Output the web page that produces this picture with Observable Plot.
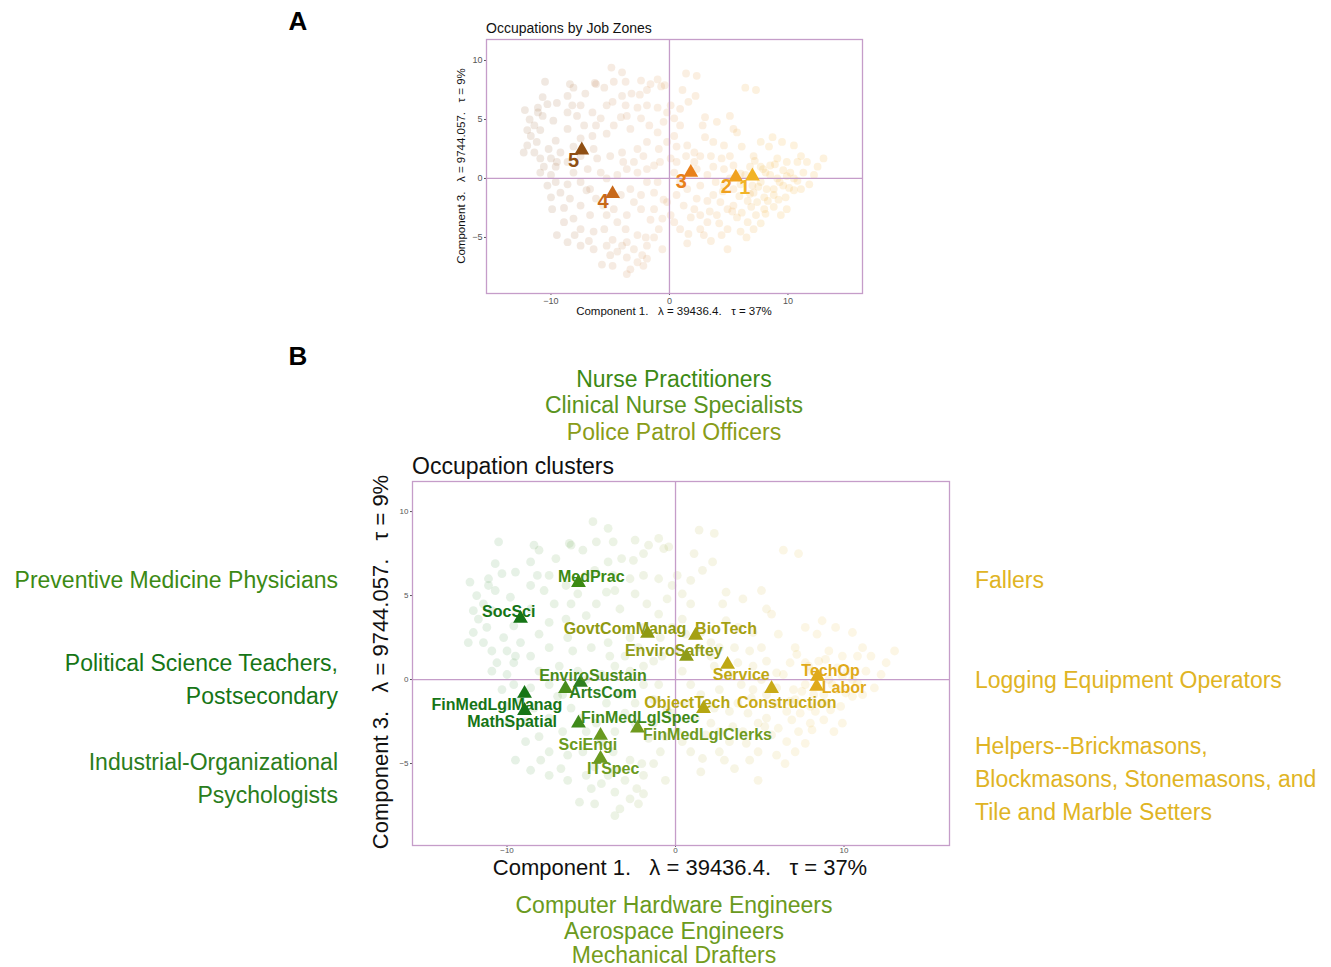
<!DOCTYPE html>
<html>
<head>
<meta charset="utf-8">
<script src="https://cdn.jsdelivr.net/npm/d3@7"></script>
<script src="https://cdn.jsdelivr.net/npm/@observablehq/plot@0.6"></script>
<style>
  html, body { margin: 0; padding: 0; background: #fff; }
  #page { position: relative; width: 1331px; height: 967px; overflow: hidden;
          font-family: "Liberation Sans", Arial, sans-serif; }
  .t { position: absolute; white-space: pre; line-height: 1; }
  .plot { position: absolute; }
</style>
</head>
<body>
<div id="page"></div>
<script>
// ---------------- DATA ----------------
// Occupations (Component 1, Component 3)
const occupationPoints = [
[-10.5,8.2],[-8.4,8.0],[-8.1,7.7],[-6.3,8.1],[-6.2,8.0],[-4.9,9.4],[-4.0,9.0],[-4.7,8.2],[-5.5,7.7],[-7.1,7.2],
[-8.6,7.0],[-8.2,6.2],[-9.5,6.4],[-10.3,6.3],[-11.1,6.0],[-12.2,5.8],[-11.8,5.0],[-11.1,5.6],[-10.7,5.3],[-9.8,4.9],
[-8.6,5.6],[-7.8,5.3],[-7.2,4.5],[-6.2,4.5],[-5.3,6.2],[-4.0,7.0],[-3.2,7.2],[-2.5,7.1],[-1.9,7.5],[-1.6,8.0],
[-0.7,7.8],[-0.4,7.9],[-1.9,6.2],[-2.7,6.0],[-3.7,6.2],[-4.8,6.5],[-4.1,5.2],[-3.3,4.2],[-5.3,3.8],[-6.5,3.6],
[-7.5,3.4],[-8.6,4.2],[-9.6,3.2],[-10.9,4.1],[-11.7,3.6],[-12.0,2.8],[-11.2,3.1],[-10.2,2.5],[-9.2,2.2],[-10.0,1.7],
[-10.6,1.0],[-9.6,1.0],[-8.6,1.4],[-8.1,0.5],[-6.9,0.8],[-6.1,1.7],[-5.0,1.9],[-4.0,2.2],[-2.7,2.5],[-1.9,3.1],
[-1.0,3.9],[-0.5,4.8],[-0.2,5.6],[0.4,5.1],[1.4,8.9],[2.3,8.7],[1.1,7.5],[1.6,6.5],[2.2,7.0],[3.0,5.2],
[2.8,4.5],[4.0,4.8],[5.4,4.2],[5.1,5.3],[6.4,7.7],[7.3,7.5],[0.4,3.6],[0.9,4.5],[1.5,2.8],[2.1,2.2],
[3.0,3.5],[3.7,3.1],[4.6,2.8],[5.7,3.9],[6.1,2.7],[7.1,1.9],[7.7,3.1],[8.7,3.5],[9.5,3.1],[10.5,2.8],
[11.1,1.9],[11.6,1.4],[13.0,1.7],[11.8,-0.5],[11.1,-0.9],[10.2,0.5],[9.9,1.4],[9.1,1.7],[8.5,1.1],[8.1,0.5],
[7.7,-0.3],[7.1,-1.2],[7.4,-2.0],[8.0,-1.6],[8.8,-0.9],[9.6,-0.6],[10.5,0.0],[9.1,0.0],[9.8,-1.6],[8.8,-2.4],
[8.1,-3.0],[7.3,-3.1],[6.6,-3.7],[6.1,-2.9],[5.4,-2.3],[4.9,-2.6],[4.3,-2.0],[3.7,-1.4],[3.2,-1.9],[2.3,-1.7],
[2.1,-2.6],[2.6,-3.1],[3.2,-3.7],[4.0,-3.1],[4.9,-4.3],[6.0,-4.5],[7.1,-4.3],[7.7,-3.8],[9.4,-3.1],[4.9,-6.0],
[4.2,-3.8],[2.6,-4.3],[1.6,-4.7],[0.9,-4.3],[0.4,-3.7],[0.1,-3.1],[-0.6,-3.4],[-0.9,-4.3],[-0.6,-6.0],[-1.3,-5.0],
[-1.9,-5.7],[-2.3,-6.5],[-3.0,-6.0],[-3.6,-5.4],[-2.7,-4.8],[-3.7,-4.3],[-4.4,-3.7],[-5.3,-3.1],[-5.5,-4.3],[-6.4,-4.5],
[-7.5,-4.3],[-8.1,-3.4],[-8.9,-3.7],[-9.5,-4.8],[-8.6,-5.4],[-7.5,-5.7],[-6.4,-6.0],[-5.3,-5.7],[-4.4,-6.2],[-3.6,-6.7],
[-2.7,-7.1],[-2.2,-7.4],[-1.9,-6.8],[-3.3,-7.7],[-4.8,-7.4],[-5.7,-7.3],[-4.0,-5.7],[-6.7,-3.1],[-7.5,-2.3],[-8.4,-1.7],
[-9.2,-1.2],[-10.0,-1.6],[-10.3,-0.6],[-9.6,-0.3],[-8.6,-0.5],[-7.5,-0.3],[-6.7,-0.9],[-5.8,0.5],[-5.3,0.0],[-4.4,0.3],
[-3.6,0.8],[-2.7,0.5],[-1.9,0.8],[-1.3,1.1],[-0.8,1.4],[-2.2,1.9],[-3.0,1.4],[-3.9,1.4],[-1.9,-0.3],[-1.0,-0.3],
[-1.3,-1.2],[-2.4,-1.4],[-3.3,-0.9],[-4.1,-1.4],[-4.7,-2.6],[-3.6,-3.1],[-2.4,-2.6],[-1.3,-2.6],[-0.2,-2.0],[0.6,-1.4],
[0.9,-0.3],[1.5,-0.9],[2.6,-0.6],[3.2,0.3],[2.3,0.8],[0.4,0.5],[0.1,1.7],[0.6,1.4],[1.4,1.9],[2.1,1.4],
[0.6,2.7],[-0.2,3.1],[-0.9,2.5],[-1.7,4.5],[-2.4,5.1],[-3.6,5.3],[-7.5,6.2],[-6.5,5.6],[-5.8,5.1],[-4.7,4.5],
[-6.4,2.5],[-7.5,1.9],[-8.1,2.7],[-9.5,1.4],[-10.9,1.7],[-11.4,2.2],[-12.3,2.2],[-10.0,0.3],[-10.9,0.5],[-11.4,4.5],
[-12.0,4.1],[-10.7,6.9],[-3.7,8.2],[-2.4,8.3],[-1.0,8.4],[0.1,6.2],[0.9,5.9],[-1.0,6.0],[12.5,1.0],[11.3,0.5],
[12.2,0.3],[10.8,1.4],[8.4,2.7],[6.8,1.0],[6.0,0.4],[5.4,1.1],[4.6,0.8],[3.7,1.0],[6.0,-0.5],[5.4,-0.9],
[4.6,-0.6],[5.1,0.0],[8.8,-1.4],[8.2,-0.9],[7.7,1.0],[10.5,-1.0],[9.9,-2.6],[5.7,-3.3],[6.6,-1.9],[7.0,-0.6],
[4.4,1.7],[5.1,1.9],[3.5,1.9],[2.6,1.9],[8.5,0.3],[9.3,-0.3],[7.9,0.8],[8.9,1.2],[9.6,0.7],[10.1,-0.8],
[7.5,-0.7],[8.3,-1.9],[9.2,-1.8],[6.8,-1.3],[6.4,0.3],[7.2,1.5],[9.9,0.2],[10.8,-0.2],[8.0,-2.6],[6.9,-2.4],
[5.9,-1.5],[5.3,-2.8],[4.5,-1.1],[3.9,-0.3],[3.4,-2.8],[2.9,-4.8],[6.5,-5.0],[1.2,-2.3],[1.8,-3.3],[-0.5,-1.8],
[-1.6,-3.5],[-3.0,-2.0],[-5.6,-2.3],[-6.2,-1.7],[-7.0,-1.0],[-8.9,-2.5],[-9.9,-2.6],[-8.0,-4.8],[-6.8,-5.3],[-4.8,-5.2],
[-3.6,-8.1],[-5.0,-6.5],[-2.0,-5.0],[1.5,-5.5],[3.5,-5.3],[4.4,-4.8]
];

// Panel A: job zone centroids
const zoneNames  = ["5", "4", "3", "2", "1"];
const zoneX      = [-7.4, -4.8, 1.8, 5.6, 7.0];
const zoneY      = [2.4, -1.3, 0.5, 0.1, 0.2];
const zoneLabelX = [-8.1, -5.6, 1.0, 4.8, 6.35];
const zoneLabelY = [1.5, -2.0, -0.3, -0.65, -0.75];
const zoneColors = ["#8f4f14", "#c8691a", "#e8801a", "#f0a11e", "#f2b426"];

// Panel B: occupation cluster centroids
const clusterNames = ["MedPrac","SocSci","GovtComManag","BioTech","EnviroSaftey","Service","TechOp","Labor",
  "Construction","EnviroSustain","ArtsCom","FinMedLglManag","MathSpatial","FinMedLglSpec","ObjectTech",
  "FinMedLglClerks","SciEngi","ITSpec"];
const clusterX = [-5.76,-9.2,-1.66,1.19,0.65,3.09,8.43,8.37,5.70,-6.53,-5.64,-8.96,-8.96,-5.76,1.66,-2.26,-4.45,-4.45];
const clusterY = [5.77,3.63,2.74,2.62,1.37,0.89,0.18,-0.42,-0.54,-0.54,-0.18,-0.83,-1.85,-2.6,-1.73,-2.9,-3.33,-4.7];
const clusterLabelX = [-5.0,-9.9,-3.0,3.0,-0.1,3.9,9.2,10.0,6.6,-4.9,-4.3,-10.6,-9.7,-2.1,0.7,1.9,-5.2,-3.7];
const clusterLabelY = [6.1,4.0,3.0,3.0,1.7,0.3,0.5,-0.5,-1.4,0.2,-0.8,-1.5,-2.5,-2.3,-1.4,-3.3,-3.9,-5.3];
const clusterColors = ["#3c8a14","#167516","#8f9a12","#a5a012","#8f9c18","#bfa814","#e0aa1a","#e0aa1a",
  "#c9aa18","#4a8c1a","#2e7f1e","#167516","#167516","#3f8a1a","#b5a612","#6f9a1e","#6a9a20","#6a9a20"];

// Axis ticks and titles
const xTicks = [-10, 0, 10];
const yTicks = [-5, 0, 5, 10];
const xTitle = "Component 1.   \u03bb = 39436.4.   \u03c4 = 37%";
const yTitle = "Component 3.   \u03bb = 9744.057.   \u03c4 = 9%";

// Representative occupations around panel B
const topLabels    = ["Nurse Practitioners", "Clinical Nurse Specialists", "Police Patrol Officers"];
const topColors    = ["#3c8a14", "#5a9420", "#8a9c18"];
const bottomLabels = ["Computer Hardware Engineers", "Aerospace Engineers", "Mechanical Drafters"];
const bottomColors = ["#6a9a20", "#6a9a20", "#749c1c"];
const leftLabels   = [["Preventive Medicine Physicians"], ["Political Science Teachers,", "Postsecondary"], ["Industrial-Organizational", "Psychologists"]];
const leftColors   = ["#3c8a14", "#167516", "#2a7d1c"];
const rightLabels  = [["Fallers"], ["Logging Equipment Operators"], ["Helpers--Brickmasons,", "Blockmasons, Stonemasons, and", "Tile and Marble Setters"]];
const rightColors  = ["#e0b424", "#e0b424", "#e0b424"];

// ---------------- BUILD ----------------
const page = document.getElementById("page");
const FONT = "'Liberation Sans', Arial, sans-serif";

function addText(str, x, y, o = {}) {
  const d = document.createElement("div");
  d.className = "t";
  d.textContent = str;
  d.style.left = x + "px";
  d.style.top = y + "px";
  d.style.fontSize = (o.size || 12) + "px";
  d.style.color = o.color || "#000";
  if (o.weight) d.style.fontWeight = o.weight;
  const tx = o.anchor === "end" ? "-100%" : o.anchor === "start" ? "0" : "-50%";
  d.style.transform = `translate(${tx}, -50%)` + (o.rotate ? ` rotate(${o.rotate}deg)` : "");
  page.appendChild(d);
  return d;
}

const pts = occupationPoints.map(([x, y]) => ({x, y}));
const zones = zoneNames.map((n, i) => ({name: n, x: zoneX[i], y: zoneY[i], lx: zoneLabelX[i], ly: zoneLabelY[i], color: zoneColors[i]}));
const clusters = clusterNames.map((n, i) => ({name: n, x: clusterX[i], y: clusterY[i], lx: clusterLabelX[i], ly: clusterLabelY[i], color: clusterColors[i]}));

const colorA = d3.scaleLinear().domain([-10, -2, 4, 9]).range(["#a8744c", "#d8965a", "#eba54a", "#f2b33a"]).clamp(true);
const colorB = d3.scaleLinear().domain([-10, -4, 1, 8]).range(["#2f8a2f", "#5e9a2a", "#aaa626", "#e8b52a"]).clamp(true);

const lineColor = "#c59dc9";

function panel({width, height, mL, mR, mT, mB, xDom, yDom, tickFont, tickPad, pointR, pointOpacity, pointColor, centroids, labelSize}) {
  return Plot.plot({
    width, height,
    marginLeft: mL, marginRight: mR, marginTop: mT, marginBottom: mB,
    style: {fontFamily: FONT, fontSize: tickFont + "px", color: "#555", background: "transparent", overflow: "visible"},
    x: {domain: xDom, ticks: xTicks, tickSize: 2, tickPadding: tickPad, label: null},
    y: {domain: yDom, ticks: yTicks, tickSize: 2, tickPadding: 2, label: null},
    color: {type: "identity"},
    marks: [
      Plot.dot(pts, {x: "x", y: "y", r: pointR, fill: d => pointColor(d.x), fillOpacity: pointOpacity, stroke: "none"}),
      Plot.ruleX([0], {stroke: lineColor, strokeWidth: 1.3}),
      Plot.ruleY([0], {stroke: lineColor, strokeWidth: 1.3}),
      Plot.frame({stroke: lineColor, strokeWidth: 1.3}),
      Plot.dot(centroids, {x: "x", y: "y", symbol: "triangle", r: 5.5, fill: "color", stroke: "none"}),
      Plot.text(centroids, {x: "lx", y: "ly", text: "name", fill: "color", fontWeight: "bold", fontSize: labelSize, fontFamily: FONT})
    ]
  });
}

// Panel labels
addText("A", 298, 21, {size: 26, weight: "bold"});
addText("B", 298, 356, {size: 26, weight: "bold"});

// Panel A
const svgA = panel({width: 440, height: 300, mL: 56, mR: 8, mT: 5, mB: 41,
  xDom: [-15.44, 16.29], yDom: [-9.75, 11.78], tickFont: 9, tickPad: 2, pointR: 3.9, pointOpacity: 0.17,
  pointColor: colorA, centroids: zones, labelSize: 20});
svgA.classList.add("plot");
svgA.style.left = "430px"; svgA.style.top = "34px";
page.appendChild(svgA);
addText("Occupations by Job Zones", 486, 28, {size: 14, anchor: "start", color: "#111"});
addText(xTitle, 674, 312, {size: 11.5, color: "#111"});
addText(yTitle, 462, 166, {size: 11.5, color: "#111", rotate: -90});

// Panel B
const svgB = panel({width: 590, height: 385, mL: 42, mR: 11, mT: 6, mB: 15,
  xDom: [-15.61, 16.26], yDom: [-9.88, 11.79], tickFont: 8, tickPad: 0, pointR: 4.4, pointOpacity: 0.12,
  pointColor: colorB, centroids: clusters, labelSize: 16});
svgB.classList.add("plot");
svgB.style.left = "370px"; svgB.style.top = "475px";
page.appendChild(svgB);
addText("Occupation clusters", 412, 466, {size: 23, anchor: "start", color: "#111"});
addText(xTitle, 680, 868, {size: 22, color: "#111"});
addText(yTitle, 381, 662, {size: 22, color: "#111", rotate: -90});

// Surrounding occupation names
const topY = [379, 405, 432];
topLabels.forEach((s, i) => addText(s, 674, topY[i], {size: 23, color: topColors[i]}));
const bottomY = [905, 931, 955];
bottomLabels.forEach((s, i) => addText(s, 674, bottomY[i], {size: 23, color: bottomColors[i]}));
const leftY = [[580], [663, 696], [762, 795]];
leftLabels.forEach((lines, i) => lines.forEach((s, j) => addText(s, 338, leftY[i][j], {size: 23, color: leftColors[i], anchor: "end"})));
const rightY = [[580], [680], [746, 779, 812]];
rightLabels.forEach((lines, i) => lines.forEach((s, j) => addText(s, 975, rightY[i][j], {size: 23, color: rightColors[i], anchor: "start"})));
</script>
</body>
</html>
